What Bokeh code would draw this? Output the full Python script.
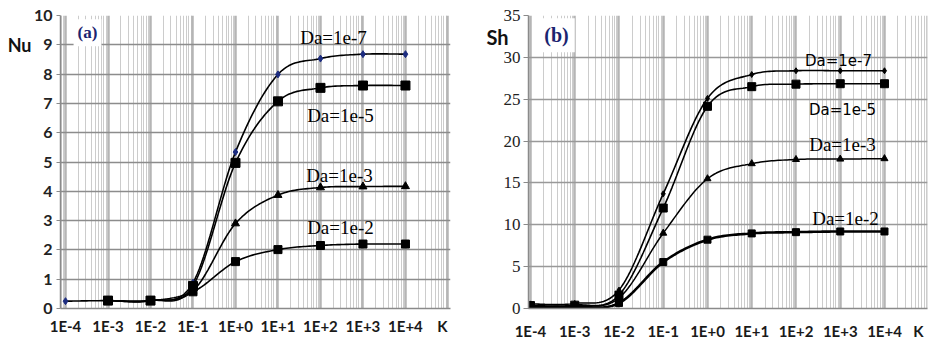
import numpy as np
from bokeh.plotting import figure
from bokeh.layouts import row
from bokeh.models import FixedTicker, CustomJSTickFormatter, Label, Range1d, LinearAxis
from bokeh.embed import file_html
from bokeh.resources import INLINE

NA = float("nan")

# ---------------- data ----------------
K = [1e-4, 1e-3, 1e-2, 1e-1, 1e0, 1e1, 1e2, 1e3, 1e4]
x_tick_labels = ["1E-4", "1E-3", "1E-2", "1E-1", "1E+0", "1E+1", "1E+2", "1E+3", "1E+4"]
series_names = ["Da=1e-7", "Da=1e-5", "Da=1e-3", "Da=1e-2"]

nu_da1e7 = [0.25, 0.27, 0.27, 0.88, 5.34, 7.99, 8.53, 8.68, 8.68]
nu_da1e5 = [NA, 0.27, 0.27, 0.77, 4.97, 7.07, 7.53, 7.61, 7.61]
nu_da1e3 = [NA, 0.27, 0.27, 0.60, 2.90, 3.87, 4.13, 4.16, 4.17]
nu_da1e2 = [NA, 0.27, 0.27, 0.57, 1.60, 2.01, 2.15, 2.20, 2.20]

sh_da1e7 = [0.55, 0.60, 2.20, 13.70, 25.10, 27.95, 28.40, 28.40, 28.40]
sh_da1e5 = [0.35, 0.40, 1.60, 12.00, 24.15, 26.50, 26.80, 26.85, 26.85]
sh_da1e3 = [0.30, 0.30, 1.25, 9.00, 15.50, 17.30, 17.80, 17.85, 17.90]
sh_da1e2 = [0.20, 0.20, 0.65, 5.55, 8.22, 8.97, 9.12, 9.20, 9.20]

nu_ticks = [0, 1, 2, 3, 4, 5, 6, 7, 8, 9, 10]
sh_ticks = [0, 5, 10, 15, 20, 25, 30, 35]
x_axis_title = "K"


def smooth(xs, ys, n=20):
    """Catmull-Rom path through the data points (in log-x space), like smoothed lines."""
    xs = np.asarray(xs, dtype=float)
    ys = np.asarray(ys, dtype=float)
    ok = ~np.isnan(ys)
    lx = np.log10(xs[ok])
    y = ys[ok]
    m = len(lx)
    X, Y = [], []
    for i in range(m - 1):
        i0 = max(i - 1, 0)
        i3 = min(i + 2, m - 1)
        for t in np.linspace(0, 1, n, endpoint=False):
            t2, t3 = t * t, t * t * t

            def cr(p0, p1, p2, p3):
                return 0.5 * ((2 * p1) + (-p0 + p2) * t + (2 * p0 - 5 * p1 + 4 * p2 - p3) * t2
                              + (-p0 + 3 * p1 - 3 * p2 + p3) * t3)
            X.append(cr(lx[i0], lx[i], lx[i + 1], lx[i3]))
            Y.append(cr(y[i0], y[i], y[i + 1], y[i3]))
    X.append(lx[-1])
    Y.append(y[-1])
    return 10 ** np.array(X), np.array(Y)


decades = [10.0 ** d for d in range(-5, 6)]
minors = [k * 10.0 ** d for d in range(-5, 5) for k in range(2, 10)]


def x_formatter(k_pos):
    tvals = list(K) + [k_pos]
    labs = list(x_tick_labels) + [x_axis_title]
    return tvals, CustomJSTickFormatter(
        args=dict(tvals=tvals, labs=labs),
        code="""
        for (let i = 0; i < tvals.length; i++) {
            if (Math.abs(Math.log10(tvals[i]) - Math.log10(tick)) < 1e-6) return labs[i];
        }
        return "";
        """)


def base_fig(width, xr, yr, yticks, bl, br, bt, bb, hcol, k_pos):
    p = figure(width=width, height=342, x_axis_type="log", x_range=xr, y_range=yr,
               output_backend="svg", toolbar_location=None, title=None,
               min_border_left=bl, min_border_right=br, min_border_top=bt, min_border_bottom=bb)
    p.outline_line_color = None
    p.background_fill_color = "white"
    p.border_fill_color = "white"
    tvals, fmt = x_formatter(k_pos)
    p.xaxis.ticker = FixedTicker(ticks=tvals)
    p.xaxis.formatter = fmt
    p.xgrid.ticker = FixedTicker(ticks=decades, minor_ticks=minors)
    p.xgrid.grid_line_color = "#b5b5b5"
    p.xgrid.grid_line_width = 2.5
    p.xgrid.minor_grid_line_color = "#cccccc"
    p.xgrid.minor_grid_line_width = 1
    p.yaxis.ticker = FixedTicker(ticks=yticks)
    p.ygrid.ticker = FixedTicker(ticks=yticks)
    p.ygrid.grid_line_color = hcol
    p.ygrid.grid_line_width = 1.5
    for ax in (p.xaxis[0], p.yaxis[0]):
        ax.axis_line_color = "#8a8a8a"
        ax.axis_line_width = 1.5
        ax.major_tick_line_color = "#8a8a8a"
        ax.minor_tick_line_color = None
        ax.major_tick_in = 0
    p.xaxis.major_tick_out = 0
    p.xaxis.major_label_text_font = "Lato"
    p.xaxis.major_label_text_font_style = "bold"
    p.xaxis.major_label_text_font_size = "15px"
    p.xaxis.major_label_text_color = "#1a1a1a"
    return p


def title_axis(p, yval, text, size, standoff):
    ax = LinearAxis(ticker=FixedTicker(ticks=[yval]),
                    formatter=CustomJSTickFormatter(args=dict(ttl=text), code="return ttl;"),
                    axis_line_color=None, major_tick_line_color=None, minor_tick_line_color=None,
                    major_tick_out=0, major_tick_in=0, major_label_standoff=standoff,
                    major_label_text_font="Lato", major_label_text_font_style="bold",
                    major_label_text_font_size=size, major_label_text_color="#111111")
    p.add_layout(ax, "left")


# ---------------- panel (a): Nu ----------------
p1 = base_fig(465, Range1d(10 ** -4.118, 10 ** 5.06), Range1d(0, 10), nu_ticks,
              60, 15, 15, 33, "#8c8c8c", 10 ** 4.87)
p1.xaxis.major_label_standoff = 8
p1.yaxis.major_tick_out = 4
p1.yaxis.major_label_standoff = 4
p1.yaxis.major_label_text_font = "Lato"
p1.yaxis.major_label_text_font_style = "bold"
p1.yaxis.major_label_text_font_size = "16px"
p1.yaxis.major_label_text_color = "#222222"
title_axis(p1, 9, "Nu", "18px", -1)

nu_series = [nu_da1e7, nu_da1e5, nu_da1e3, nu_da1e2]
nu_markers = ["diamond", "square", "triangle", "square"]
nu_msize = [7, 9, 8, 8]
nu_mcolor = ["#1c2c80", "black", "black", "black"]
for ys, mk, ms, mc in zip(nu_series, nu_markers, nu_msize, nu_mcolor):
    sx, sy = smooth(K, ys)
    p1.line(sx, sy, line_color="black", line_width=1.6)
    p1.scatter(K, ys, marker=mk, size=ms, fill_color=mc, line_color=mc)

nu_lab_x = [10 ** 2.306, 10 ** 2.47, 10 ** 2.447, 10 ** 2.47]
nu_lab_y = [9.24, 6.59, 4.55, 2.76]
for name, lx_, ly_ in zip(series_names, nu_lab_x, nu_lab_y):
    p1.add_layout(Label(x=lx_, y=ly_, text=name, text_font="Liberation Serif",
                        text_font_size="19px", text_color="black",
                        text_align="center", text_baseline="middle"))

p1.add_layout(Label(x=10 ** -3.483, y=9.41, text="(a)", text_font="Liberation Serif",
                    text_font_style="bold", text_font_size="17px", text_color="#1b2470",
                    background_fill_color="white", text_align="center",
                    text_baseline="middle", padding=4))

# ---------------- panel (b): Sh ----------------
p2 = base_fig(464, Range1d(10 ** -4.045, 10 ** 4.972), Range1d(0, 35), sh_ticks,
              63, 2, 15, 33, "#999999", 10 ** 4.768)
p2.xaxis.major_label_standoff = 13
p2.yaxis.major_tick_out = 5
p2.yaxis.major_label_standoff = 3
p2.yaxis.major_label_text_font = "Liberation Serif"
p2.yaxis.major_label_text_font_size = "17px"
p2.yaxis.major_label_text_color = "#222222"
title_axis(p2, 32.4, "Sh", "20px", -8)

sh_series = [sh_da1e7, sh_da1e5, sh_da1e3, sh_da1e2]
sh_markers = ["diamond", "square", "triangle", "square"]
sh_msize = [6, 8, 7, 7]
sh_lw = [1.6, 1.6, 1.5, 2.6]
for ys, mk, ms, lw in zip(sh_series, sh_markers, sh_msize, sh_lw):
    sx, sy = smooth(K, ys)
    p2.line(sx, sy, line_color="black", line_width=lw)
    p2.scatter(K, ys, marker=mk, size=ms, fill_color="black", line_color="black")

sh_lab_x = [10 ** 2.961, 10 ** 3.051, 10 ** 3.051, 10 ** 3.119]
sh_lab_y = [29.6, 23.72, 19.61, 10.8]
sh_lab_font = ["DejaVu Sans", "DejaVu Sans", "Liberation Serif", "Liberation Serif"]
sh_lab_size = ["15px", "15px", "19px", "19px"]
for name, lx_, ly_, fnt, fs in zip(series_names, sh_lab_x, sh_lab_y, sh_lab_font, sh_lab_size):
    p2.add_layout(Label(x=lx_, y=ly_, text=name, text_font=fnt, text_font_size=fs,
                        text_color="black", text_align="center", text_baseline="middle"))

p2.add_layout(Label(x=10 ** -3.412, y=32.65, text="(b)", text_font="Liberation Serif",
                    text_font_style="bold", text_font_size="20px", text_color="#1b2470",
                    background_fill_color="white", text_align="center",
                    text_baseline="middle", padding=6))

layout = row(p1, p2)
open("out.html", "w").write(file_html(layout, INLINE))
